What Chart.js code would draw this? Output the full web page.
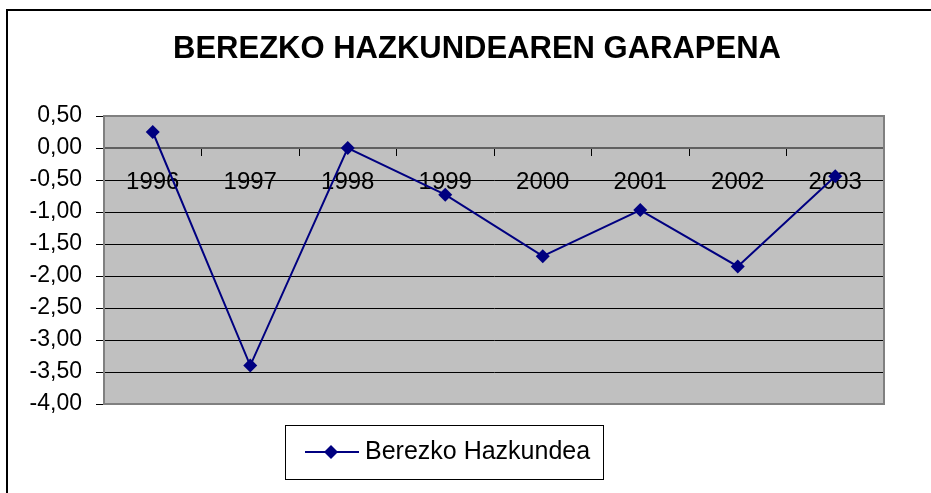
<!DOCTYPE html>
<html>
<head>
<meta charset="utf-8">
<title>Berezko Hazkundearen Garapena</title>
<script src="https://cdn.jsdelivr.net/npm/chart.js@4.4.1/dist/chart.umd.min.js"></script>
<style>
    html, body { margin: 0; padding: 0; background: #ffffff; }
    #growthChart { display: block; }
</style>
</head>
<body>
<canvas id="growthChart" width="931" height="493"></canvas>
<script>
// Chart data
const chartTitle = 'BEREZKO HAZKUNDEAREN GARAPENA';
const seriesLabel = 'Berezko Hazkundea';
const years = ['1996', '1997', '1998', '1999', '2000', '2001', '2002', '2003'];
const growthValues = [0.25, -3.40, 0.00, -0.73, -1.69, -0.97, -1.85, -0.44];
const yMin = -4.0;
const yMax = 0.5;
const yStep = 0.5;

const FONT = '"Liberation Sans", Arial, sans-serif';

// Comma decimal labels, like the Basque Excel sheet
function formatTick(value) {
    return value.toFixed(2).replace('.', ',');
}

// 1. Gray plot area + outer frame behind everything
const excelFrame = {
    id: 'excelFrame',
    beforeDraw(chart) {
        const { ctx, chartArea: a } = chart;
        ctx.save();
        ctx.fillStyle = '#c0c0c0';
        ctx.fillRect(a.left, a.top, a.right - a.left, a.bottom - a.top);

        // outer chart frame (top + left visible, rest is cut off)
        ctx.strokeStyle = '#000000';
        ctx.lineWidth = 2;
        ctx.beginPath();
        ctx.moveTo(7, chart.height);
        ctx.lineTo(7, 10);
        ctx.lineTo(chart.width, 10);
        ctx.stroke();
        ctx.restore();
    },
    afterDatasetsDraw(chart) {
        // plot area border with the little Excel shadow on bottom/right
        const { ctx, chartArea: a } = chart;
        ctx.save();
        ctx.strokeStyle = '#808080';
        ctx.lineWidth = 2;
        ctx.strokeRect(a.left, a.top, a.right - a.left, a.bottom - a.top);
        ctx.restore();
    }
};

// 2. Title and boxed legend, drawn where Excel put them
const titleAndLegend = {
    id: 'titleAndLegend',
    afterDraw(chart) {
        const { ctx } = chart;
        const ds = chart.data.datasets[0];
        ctx.save();

        ctx.fillStyle = '#000000';
        ctx.font = 'bold 31px ' + FONT;
        ctx.textAlign = 'center';
        ctx.textBaseline = 'middle';
        ctx.fillText(chartTitle, 477, 49);

        // legend box
        ctx.strokeStyle = '#000000';
        ctx.lineWidth = 1;
        ctx.strokeRect(285.5, 425.5, 318, 54);

        // legend sample: line with diamond
        ctx.strokeStyle = ds.borderColor;
        ctx.lineWidth = 2;
        ctx.beginPath();
        ctx.moveTo(305, 452);
        ctx.lineTo(359, 452);
        ctx.stroke();
        ctx.fillStyle = ds.pointBackgroundColor;
        ctx.beginPath();
        ctx.moveTo(331, 445);
        ctx.lineTo(338, 452);
        ctx.lineTo(331, 459);
        ctx.lineTo(324, 452);
        ctx.closePath();
        ctx.fill();

        ctx.fillStyle = '#000000';
        ctx.font = '25px ' + FONT;
        ctx.textAlign = 'left';
        ctx.fillText(ds.label, 365, 452);
        ctx.restore();
    }
};

// 3. Build the chart
const ctx = document.getElementById('growthChart').getContext('2d');
new Chart(ctx, {
    type: 'line',
    data: {
        labels: years,
        datasets: [{
            label: seriesLabel,
            data: growthValues,
            borderColor: '#000080',
            backgroundColor: '#000080',
            pointBackgroundColor: '#000080',
            pointBorderColor: '#000080',
            borderWidth: 2,
            pointStyle: 'rectRot',
            pointRadius: 7,
            pointBorderWidth: 0,
            tension: 0,
            fill: false
        }]
    },
    options: {
        responsive: false,
        animation: false,
        devicePixelRatio: 1,
        layout: { padding: { left: 0, top: 116, right: 47, bottom: 89 } },
        plugins: {
            legend: { display: false },
            title: { display: false },
            tooltip: { enabled: false }
        },
        scales: {
            x: {
                type: 'category',
                position: { y: 0 }, // axis crosses at zero, like Excel
                offset: true,
                grid: { drawOnChartArea: false, offset: true, tickLength: 7, color: '#000000', lineWidth: 1 },
                border: { display: true, color: '#606060', width: 2 },
                ticks: { color: '#000000', font: { family: FONT, size: 24 }, padding: 13, maxRotation: 0, autoSkip: false }
            },
            y: {
                min: yMin,
                max: yMax,
                afterFit: (scale) => { scale.width = 104; },
                grid: { color: '#000000', lineWidth: 1, tickLength: 8 },
                border: { display: true, color: '#808080', width: 2 },
                ticks: {
                    stepSize: yStep,
                    color: '#000000',
                    padding: 14,
                    font: { family: FONT, size: 23 },
                    callback: (v) => formatTick(v)
                }
            }
        }
    },
    plugins: [excelFrame, titleAndLegend]
});
</script>
</body>
</html>
